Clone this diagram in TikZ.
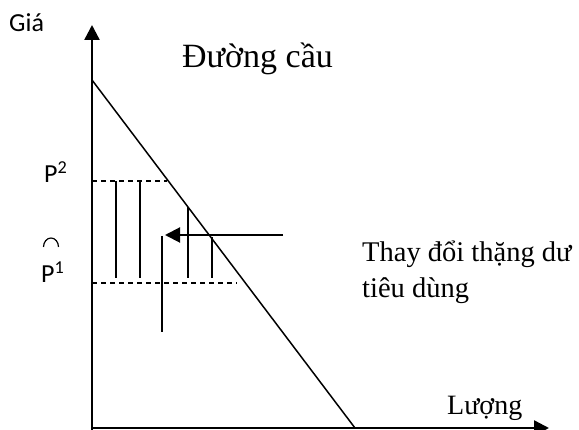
\documentclass[tikz,border=0pt]{standalone}
\usepackage{fontspec}
\setmainfont{Liberation Serif}
\newfontfamily\calibri{Carlito}
\usetikzlibrary{arrows.meta,positioning}

\begin{document}
\begin{tikzpicture}[x=1pt, y=-1pt,
        axis/.style={line width=2.4pt, -{Triangle[length=15pt,width=15pt]}},
        curve/.style={line width=1.5pt},
        level/.style={dashed, line width=1.2pt, dash pattern=on 5pt off 4pt},
        strip/.style={line width=1.8pt},
        movearrow/.style={line width=2pt, -{Triangle[length=15pt,width=15pt]}},
        serif/.style={font=\fontsize{28.5}{36}\selectfont, inner sep=0pt, anchor=base west},
        sans/.style={font=\calibri\fontsize{26}{30}\selectfont, inner sep=0pt, anchor=base west}
    ]
        \useasboundingbox (0,0) rectangle (579,430);
        % Points
        \coordinate (ybot) at (92,432);
        \coordinate (origin) at (92,428);
        \coordinate (ytop) at (92,25);
        \coordinate (xend) at (549,428);
        \coordinate (dtop) at (92,80);
        \coordinate (dbot) at (355,428);
        \coordinate (p2a) at (92,181);
        \coordinate (p2b) at (167,181);
        \coordinate (p1a) at (92,283);
        \coordinate (p1b) at (237,283);
        \coordinate (from) at (283,235);
        \coordinate (to) at (165,235);

        % Axes
        \draw[axis] (ybot) -- (ytop);
        \draw[axis] (origin) -- (xend);
        \draw[curve] (dtop) -- (dbot);

        % Price levels
        \draw[level] (p2a) -- (p2b);
        \draw[level] (p1a) -- (p1b);

        % Strips
        \draw[strip] (116,181) -- (116,278);
        \draw[strip] (140,181) -- (140,278);
        \draw[strip] (188,207) -- (188,278);
        \draw[strip] (212,237) -- (212,278);
        \draw[strip] (162,236) -- (162,332);
        \draw[movearrow] (from) -- (to);
        \draw[line width=1.2pt] (43.5,247) arc[start angle=180, end angle=360, x radius=7.5, y radius=9];

        % Labels
        \node[sans] (gia) at (9,32) {Giá};
        \node[sans] (ptwo) at (44,183) {P\textsuperscript{2}};
        \node[sans] (pone) at (41,283) {P\textsuperscript{1}};
        \node[serif, font=\fontsize{34}{38}\selectfont] (cau) at (182,68) {Đường cầu};
        \node[serif] (thay) at (362,262) {Thay đổi thặng dư};
        \node[serif] (tieu) at (362,298) {tiêu dùng};
        \node[serif, font=\fontsize{28}{32}\selectfont] (luong) at (447,415) {Lượng};
    \end{tikzpicture}
\end{document}
